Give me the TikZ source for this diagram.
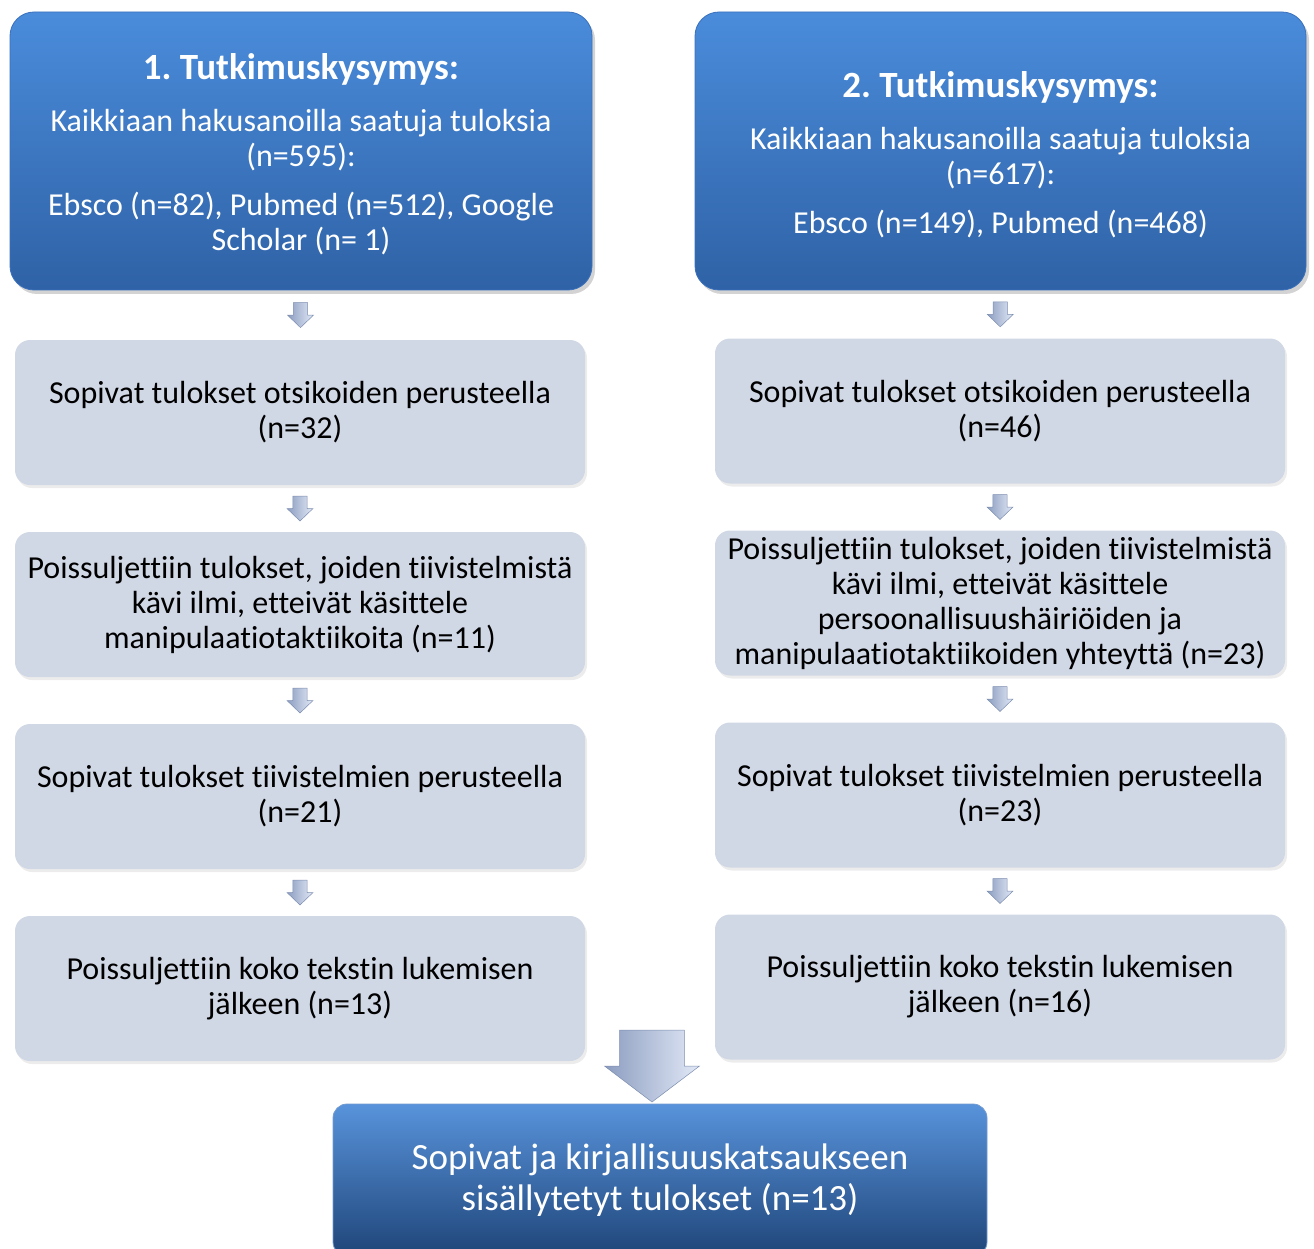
\documentclass[tikz,border=0pt]{standalone}
\usepackage{fontspec}
\setmainfont{Carlito}[Ligatures={NoCommon,NoContextual}]
\usetikzlibrary{positioning,shadows,calc}

\definecolor{qtop}{HTML}{4A8CDB}
\definecolor{qbot}{HTML}{2F62A6}
\definecolor{qedge}{HTML}{3A70BC}
\definecolor{ftop}{HTML}{5893DB}
\definecolor{fbot}{HTML}{1F4579}
\definecolor{stepfill}{HTML}{D0D7E5}
\definecolor{arrowL}{HTML}{8C9DC0}
\definecolor{arrowM}{HTML}{B1C0DE}
\definecolor{arrowR}{HTML}{E2E9F7}
\definecolor{arrowEdge}{HTML}{7C8DAF}

\tikzset{pics/blockarrow/.style={code={
    \shade[left color=arrowL,middle color=arrowM,right color=arrowR,draw=arrowEdge,line width=0.5pt]
        (-#1,0.5) -- (#1,0.5) -- (#1,0) -- (0.5,0) -- (0,-0.5) -- (-0.5,0) -- (-#1,0) -- cycle;}}}

\begin{document}
\begin{tikzpicture}[x=1pt,y=1pt,node distance=192pt,on grid,
    font=\fontsize{32}{35}\selectfont\frenchspacing,
    question/.style={rounded corners=24pt,top color=qtop,bottom color=qbot,
        draw=qedge,line width=0.8pt,text=white,align=center,minimum height=278pt,
        drop shadow={shadow xshift=3pt,shadow yshift=-4pt,opacity=0.35}},
    result/.style={rounded corners=15pt,fill=stepfill,minimum width=570pt,
        minimum height=145pt,align=center,inner sep=0pt,
        drop shadow={shadow xshift=2pt,shadow yshift=-3pt,opacity=0.15}},
    final/.style={rounded corners=14pt,top color=ftop,bottom color=fbot,
        draw=qedge!70,line width=0.8pt,text=white,align=center,
        minimum width=654pt,minimum height=152pt,
        font=\fontsize{37}{41}\selectfont\frenchspacing}]
    \useasboundingbox (0,0) rectangle (1314,-1249);

    \node[question,minimum width=582pt] (q1) at (301,-151)
        {{\bfseries\fontsize{37}{40}\selectfont 1. Tutkimuskysymys:}\\[17pt]
         Kaikkiaan hakusanoilla saatuja tuloksia\\ (n=595):\\[14pt]
         Ebsco (n=82), Pubmed (n=512), Google\\ Scholar (n= 1)\\[-38pt]};
    \node[question,minimum width=611pt] (q2) at (1000.5,-151)
        {{\bfseries\fontsize{37}{40}\selectfont 2. Tutkimuskysymys:}\\[17pt]
         Kaikkiaan hakusanoilla saatuja tuloksia\\ (n=617):\\[14pt]
         Ebsco (n=149), Pubmed (n=468)\\[-38pt]};

    \node[result] (a1) at (300,-412.5) {Sopivat tulokset otsikoiden perusteella\\ (n=32)};
    \node[result] (a2) [below=of a1] {Poissuljettiin tulokset, joiden tiivistelmistä\\ kävi ilmi, etteivät käsittele\\ manipulaatiotaktiikoita (n=11)};
    \node[result] (a3) [below=of a2] {Sopivat tulokset tiivistelmien perusteella\\ (n=21)};
    \node[result] (a4) [below=of a3] {Poissuljettiin koko tekstin lukemisen\\ jälkeen (n=13)};

    \node[result] (b1) at (1000,-411) {Sopivat tulokset otsikoiden perusteella\\ (n=46)};
    \node[result] (b2) [below=of b1] {Poissuljettiin tulokset, joiden tiivistelmistä\\ kävi ilmi, etteivät käsittele\\ persoonallisuushäiriöiden ja\\ manipulaatiotaktiikoiden yhteyttä (n=23)};
    \node[result] (b3) [below=of b2] {Sopivat tulokset tiivistelmien perusteella\\ (n=23)};
    \node[result] (b4) [below=of b3] {Poissuljettiin koko tekstin lukemisen\\ jälkeen (n=16)};

    \node[final] (fin) at (660,-1180) {Sopivat ja kirjallisuuskatsaukseen\\ sisällytetyt tulokset (n=13)};

    \foreach \u/\v in {q1/a1,a1/a2,a2/a3,a3/a4,q2/b1,b1/b2,b2/b3,b3/b4}
        \pic[xscale=26,yscale=25] (\u-\v) at ($(\u.south)!0.5!(\v.north)$) {blockarrow=0.27};
    \pic[xscale=95,yscale=72] (join) at (652,-1066) {blockarrow=0.34};
\end{tikzpicture}
\end{document}
